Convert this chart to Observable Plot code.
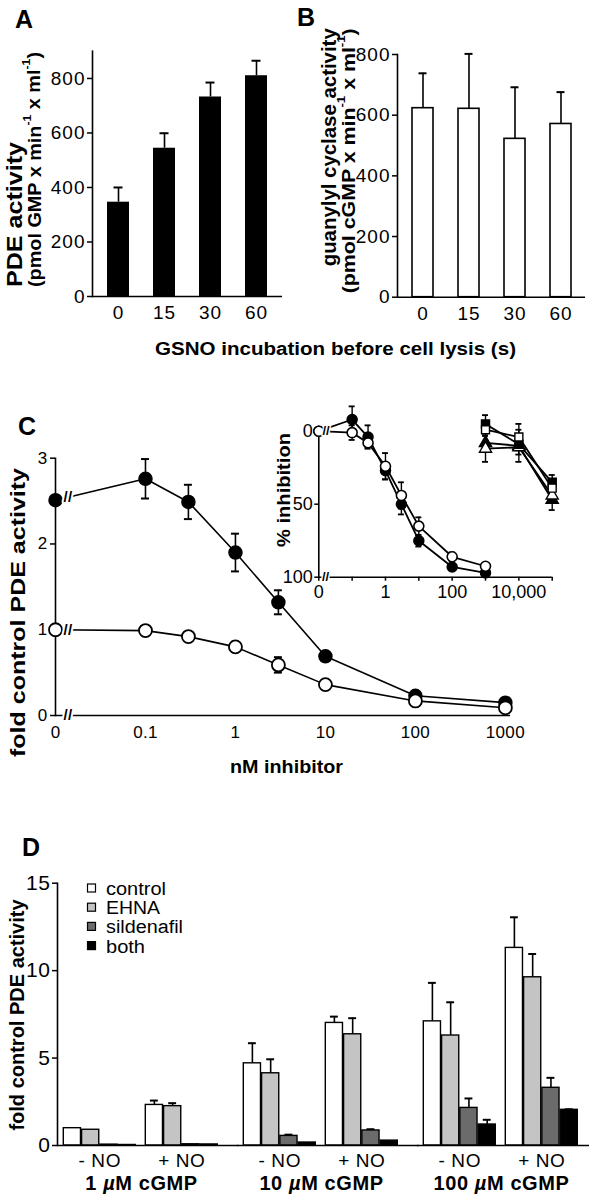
<!DOCTYPE html>
<html><head><meta charset="utf-8">
<script src="https://cdn.jsdelivr.net/npm/d3@7"></script>
<script src="https://cdn.jsdelivr.net/npm/@observablehq/plot@0.6"></script>
<style>
html,body{margin:0;padding:0;background:#fff;}
#page{position:relative;width:589px;height:1199px;overflow:hidden;background:#fff;}
#page > svg{position:absolute;left:0;top:0;}
</style></head><body><div id="page"></div>
<script>
// ---------------- DATA ----------------
// Panel A / B
const gsnoTimes = ["0", "15", "30", "60"];
const pdeActivity = [346, 544, 732, 810];
const pdeActivityErr = [54, 55, 53, 55];
const gcActivity = [623, 621, 522, 571];
const gcActivityErr = [115, 181, 170, 105];

// Panel C (main)
const inhibitorNM = [0, 0.1, 0.3, 1, 3, 10, 100, 1000];
const foldNO = [2.51, 2.76, 2.49, 1.90, 1.32, 0.69, 0.23, 0.15];
const foldNOErr = [0, 0.23, 0.20, 0.22, 0.14, 0.05, 0.03, 0.02];
const foldControl = [1.00, 0.99, 0.92, 0.80, 0.59, 0.36, 0.17, 0.09];
const foldControlErr = [0, 0.04, 0.02, 0.06, 0.09, 0.02, 0.02, 0.02];
const cTicks = [0, 0.1, 1, 10, 100, 1000];

// Panel C (inset, % inhibition)
const inhNO = [0, -8, 4, 27, 50, 75, 93, 97];
const inhNOErr = [0, 9, 8, 6, 7, 4, 2, 2];
const inhControl = [0, 1, 8, 24, 44, 65, 86, 92.5];
const inhControlErr = [0, 5, 3, 9, 9, 6, 3, 2];
const ehnaNM = [1000, 10000, 100000];
const ehnaFilledSq = [-5, 9, 35];
const ehnaFilledSqErr = [6, 4, 5];
const ehnaOpenSq = [-1, 4, 39];
const ehnaOpenSqErr = [4, 9, 4];
const ehnaFilledTri = [8, 10, 47];
const ehnaFilledTriErr = [5, 11, 7];
const ehnaOpenTri = [12, 11, 44];
const ehnaOpenTriErr = [9, 5, 5];
const insetTicks = [0, 0.1, 1, 10, 100, 1000, 10000, 100000];
const insetTickLabels = ["0", "", "1", "", "100", "", "10,000", ""];

// Panel D
const dConcentrations = ["1 µM cGMP", "10 µM cGMP", "100 µM cGMP"];
const dNO = ["- NO", "+ NO"];
const dTreatments = ["control", "EHNA", "sildenafil", "both"];
// order: 1µM -NO, 1µM +NO, 10µM -NO, 10µM +NO, 100µM -NO, 100µM +NO
const dControl = [0.99, 2.32, 4.70, 7.01, 7.10, 11.30];
const dControlErr = [0, 0.25, 1.15, 0.36, 2.20, 1.75];
const dEHNA = [0.90, 2.25, 4.13, 6.36, 6.29, 9.62];
const dEHNAErr = [0, 0.17, 0.80, 0.92, 1.90, 1.33];
const dSildenafil = [0.05, 0.07, 0.55, 0.86, 2.15, 3.30];
const dSildenafilErr = [0, 0, 0.07, 0.07, 0.54, 0.57];
const dBoth = [0.03, 0.06, 0.17, 0.28, 1.20, 2.04];
const dBothErr = [0, 0, 0, 0, 0.27, 0.03];

// ---------------- LAYOUT ----------------
const W = 589, H = 1199;
const FONT = '"Liberation Sans", Arial, Helvetica, sans-serif';
const page = document.getElementById("page");
function style(fs, ls) {
  return {background: "transparent", overflow: "visible", fontFamily: FONT,
          fontSize: fs + "px", letterSpacing: (ls || 0) + "px", color: "black"};
}
function add(svg) {
  svg.style.position = "absolute"; svg.style.left = "0px"; svg.style.top = "0px";
  svg.style.maxWidth = "none";
  page.appendChild(svg);
  return svg;
}
const SW = 1.6;

// ---------------- PANEL A ----------------
const aRows = gsnoTimes.map((t, i) => ({t, v: pdeActivity[i], e: pdeActivityErr[i]}));
add(Plot.plot({
  width: W, height: H, marginLeft: 92, marginRight: W - 282, marginTop: 50.7, marginBottom: H - 296,
  style: style(19, 1),
  x: {domain: gsnoTimes, paddingInner: 0.53, paddingOuter: 0.295},
  y: {domain: [0, 900]},
  marks: [
    Plot.barY(aRows, {x: "t", y: "v", fill: "black"}),
    Plot.ruleX(aRows, {x: "t", y1: "v", y2: d => d.v + d.e, strokeWidth: SW}),
    Plot.tickY(aRows, {x: "t", y: d => d.v + d.e, insetLeft: 6.5, insetRight: 6.5, strokeWidth: 2}),
    Plot.ruleY([0], {strokeWidth: SW}),
    Plot.frame({anchor: "left", strokeWidth: SW}),
    Plot.axisY({ticks: [0, 200, 400, 600, 800], tickSize: 5, tickPadding: 2, strokeWidth: 1.5, label: null}),
    Plot.axisX({tickSize: 0, tickPadding: 9, label: null})
  ]
}));

// ---------------- PANEL B ----------------
const bRows = gsnoTimes.map((t, i) => ({t, v: gcActivity[i], e: gcActivityErr[i]}));
add(Plot.plot({
  width: W, height: H, marginLeft: 397, marginRight: W - 585, marginTop: 54, marginBottom: H - 296.7,
  style: style(19, 1),
  x: {domain: gsnoTimes, paddingInner: 0.553, paddingOuter: 0.277},
  y: {domain: [0, 800]},
  marks: [
    Plot.ruleX(bRows, {x: "t", y1: "v", y2: d => d.v + d.e, strokeWidth: SW}),
    Plot.tickY(bRows, {x: "t", y: d => d.v + d.e, insetLeft: 6.5, insetRight: 6.5, strokeWidth: 2}),
    Plot.barY(bRows, {x: "t", y: "v", fill: "white", stroke: "black", strokeWidth: SW}),
    Plot.ruleY([0], {strokeWidth: SW}),
    Plot.frame({anchor: "left", strokeWidth: SW}),
    Plot.axisY({ticks: [0, 200, 400, 600, 800], tickSize: 5, tickPadding: 2, strokeWidth: 1.5, label: null}),
    Plot.axisX({tickSize: 0, tickPadding: 9, label: null})
  ]
}));

// ---------------- PANEL C (main) ----------------
const zeroNM = 0.01;           // log-axis position used for the "0" concentration
const breakNM = 0.0138;        // where the axis break "//" is drawn
const xPos = d => d === 0 ? zeroNM : d;
function series(name, ys, es) {
  return inhibitorNM.map((x, i) => ({series: name, x: xPos(x), y: ys[i], e: es[i]}));
}
const cNO = series("NO", foldNO, foldNOErr);
const cCtl = series("control", foldControl, foldControlErr);
const cAll = cNO.concat(cCtl);
const cErr = cAll.filter(d => d.e > 0);
function breakPoint(rows) {
  const a = rows[0], b = rows[1];
  const f = (Math.log10(breakNM) - Math.log10(a.x)) / (Math.log10(b.x) - Math.log10(a.x));
  return {x: breakNM, y: a.y + f * (b.y - a.y)};
}
const cBreaks = [breakPoint(cNO), breakPoint(cCtl), {x: breakNM, y: 0}];
add(Plot.plot({
  width: W, height: H, marginLeft: 55, marginRight: W - 510, marginTop: 457.7, marginBottom: H - 715,
  style: style(17, 0.3),
  x: {type: "log", domain: [zeroNM, 1140]},
  y: {domain: [0, 3]},
  marks: [
    Plot.ruleY([0], {strokeWidth: SW}),
    Plot.frame({anchor: "left", strokeWidth: SW}),
    Plot.axisY({ticks: [0, 1, 2, 3], tickFormat: d => String(d), tickSize: 5, tickPadding: 3, strokeWidth: 1.5, label: null}),
    Plot.axisX({ticks: cTicks.map(xPos), tickFormat: d => d === zeroNM ? "0" : String(d),
                tickSize: 0, tickPadding: 10, label: null}),
    Plot.line(cAll, {x: "x", y: "y", z: "series", stroke: "black", strokeWidth: SW}),
    Plot.ruleX(cErr, {x: "x", y1: d => d.y - d.e, y2: d => d.y + d.e, strokeWidth: SW}),
    Plot.ruleY(cErr, {x1: "x", x2: "x", y: d => d.y + d.e, insetLeft: -4, insetRight: -4, strokeWidth: 2}),
    Plot.ruleY(cErr, {x1: "x", x2: "x", y: d => d.y - d.e, insetLeft: -4, insetRight: -4, strokeWidth: 2}),
    Plot.dot(cNO, {x: "x", y: "y", r: 6.5, fill: "black", stroke: "black", strokeWidth: 1.5}),
    Plot.dot(cCtl, {x: "x", y: "y", r: 6.5, fill: "white", stroke: "black", strokeWidth: 1.8}),
    Plot.text(cBreaks, {x: "x", y: "y", text: () => "//", fontSize: 15, fontWeight: "bold",
                        fill: "black", stroke: "white", strokeWidth: 4})
  ]
}));

// ---------------- PANEL C (inset) ----------------
function iseries(name, xs, ys, es) {
  return xs.map((x, i) => ({series: name, x: xPos(x), y: ys[i], e: es[i]}));
}
const iNO = iseries("NO", inhibitorNM, inhNO, inhNOErr);
const iCtl = iseries("control", inhibitorNM, inhControl, inhControlErr);
const iFSq = iseries("fsq", ehnaNM, ehnaFilledSq, ehnaFilledSqErr);
const iOSq = iseries("osq", ehnaNM, ehnaOpenSq, ehnaOpenSqErr);
const iFTr = iseries("ftr", ehnaNM, ehnaFilledTri, ehnaFilledTriErr);
const iOTr = iseries("otr", ehnaNM, ehnaOpenTri, ehnaOpenTriErr);
const iAll = [].concat(iNO, iCtl, iFSq, iOSq, iFTr, iOTr);
const iErr = iAll.filter(d => d.e > 0);
const iBreaks = [{x: 0.0165, y: 0}, {x: 0.0159, y: 100}];
const insetLabel = new Map(insetTicks.map((t, i) => [xPos(t), insetTickLabels[i]]));
add(Plot.plot({
  width: W, height: H, marginLeft: 318.3, marginRight: W - 551.7, marginTop: 430.7, marginBottom: H - 576.7,
  style: style(18, 0),
  x: {type: "log", domain: [zeroNM, 100000]},
  y: {domain: [0, 100], reverse: true},
  marks: [
    Plot.ruleY([100], {strokeWidth: SW}),
    Plot.frame({anchor: "left", strokeWidth: SW}),
    Plot.axisY({ticks: [0, 50, 100], tickSize: 4, tickPadding: 2, strokeWidth: 1.5, label: null}),
    Plot.axisX({ticks: insetTicks.map(xPos), tickFormat: d => insetLabel.get(d),
                tickSize: 4, tickPadding: 4, strokeWidth: 1.5, label: null}),
    Plot.line(iAll, {x: "x", y: "y", z: "series", stroke: "black", strokeWidth: 1.8}),
    Plot.ruleX(iErr, {x: "x", y1: d => d.y - d.e, y2: d => d.y + d.e, strokeWidth: 1.4}),
    Plot.ruleY(iErr, {x1: "x", x2: "x", y: d => d.y - d.e, insetLeft: -3, insetRight: -3, strokeWidth: 1.8}),
    Plot.ruleY(iErr, {x1: "x", x2: "x", y: d => d.y + d.e, insetLeft: -3, insetRight: -3, strokeWidth: 1.8}),
    Plot.dot(iNO, {x: "x", y: "y", r: 5, fill: "black", stroke: "black"}),
    Plot.dot(iCtl, {x: "x", y: "y", r: 5, fill: "white", stroke: "black", strokeWidth: 1.6}),
    Plot.dot(iFTr, {x: "x", y: "y", r: 4.5, symbol: "triangle", fill: "black", stroke: "black"}),
    Plot.dot(iOTr, {x: "x", y: "y", r: 4.5, symbol: "triangle", fill: "white", stroke: "black", strokeWidth: 1.4}),
    Plot.dot(iFSq, {x: "x", y: "y", r: 4.5, symbol: "square", fill: "black", stroke: "black"}),
    Plot.dot(iOSq, {x: "x", y: "y", r: 4.5, symbol: "square", fill: "white", stroke: "black", strokeWidth: 1.4}),
    Plot.text(iBreaks, {x: "x", y: "y", text: () => "//", fontSize: 13, fontWeight: "bold",
                        fill: "black", stroke: "white", strokeWidth: 3})
  ]
}));

// ---------------- PANEL D ----------------
const dMeans = [dControl, dEHNA, dSildenafil, dBoth];
const dErrs = [dControlErr, dEHNAErr, dSildenafilErr, dBothErr];
const dFills = ["white", "#c4c4c4", "#6b6b6b", "black"];
const dRows = [];
dTreatments.forEach((t, ti) => dMeans[ti].forEach((v, gi) => dRows.push({
  conc: dConcentrations[Math.floor(gi / 2)], no: dNO[gi % 2], t, ti, v, e: dErrs[ti][gi]
})));
const dML = 56.7, dMR = W - 585;
const fxPI = 0.069, xPI = 0.116, xPO = 0.0726;
const facetStep = (W - dML - dMR) / (3 - fxPI);
const facetW = facetStep * (1 - fxPI);
const groupW = facetW / (2 - xPI + 2 * xPO) * (1 - xPI);
const barW = groupW / 4;
const capW = 9;
const dMarks = [];
dTreatments.forEach((t, ti) => {
  const rows = dRows.filter(d => d.ti === ti);
  const er = rows.filter(d => d.e > 0);
  dMarks.push(
    Plot.ruleX(er, {fx: "conc", x: "no", y1: "v", y2: d => d.v + d.e, dx: (ti - 1.5) * barW, strokeWidth: SW}),
    Plot.tickY(er, {fx: "conc", x: "no", y: d => d.v + d.e, strokeWidth: 2,
                    insetLeft: ti * barW + (barW - capW) / 2, insetRight: (3 - ti) * barW + (barW - capW) / 2}),
    Plot.barY(rows, {fx: "conc", x: "no", y: "v", fill: dFills[ti], stroke: "black", strokeWidth: 1.4,
                     insetLeft: ti * barW, insetRight: (3 - ti) * barW})
  );
});
const dSvg = add(Plot.plot({
  width: W, height: H, marginLeft: dML, marginRight: dMR, marginTop: 882.7, marginBottom: H - 1145,
  style: style(19, 0.6),
  fx: {domain: dConcentrations, paddingInner: fxPI, paddingOuter: 0},
  x: {domain: dNO, paddingInner: xPI, paddingOuter: xPO},
  y: {domain: [0, 15]},
  marks: [
    ...dMarks,
    Plot.ruleY([0], {strokeWidth: SW, insetRight: -(facetStep - facetW + 1)}),
    Plot.frame({anchor: "left", facetAnchor: "left", strokeWidth: SW}),
    Plot.axisY({ticks: [0, 5, 10, 15], tickSize: 5, tickPadding: 2, strokeWidth: 1.5, fontSize: 21, label: null}),
    Plot.axisX({anchor: "bottom", tickSize: 0, tickPadding: 8, fontSize: 19, label: null}),
    Plot.axisFx({anchor: "bottom", tickSize: 0, tickPadding: 30, fontSize: 20, fontWeight: "bold", label: null})
  ]
}));
// italic µ in the concentration labels
d3.select(dSvg).selectAll("text").each(function () {
  const el = d3.select(this);
  if (el.selectAll("tspan").size() === 0 && this.textContent.includes("µ")) {
    const [pre, post] = this.textContent.split("µ");
    el.text(null);
    el.append("tspan").text(pre);
    el.append("tspan").attr("font-style", "italic").text("µ");
    el.append("tspan").text(post);
  }
});

// ---------------- TEXT OVERLAY ----------------
const ov = d3.create("svg").attr("width", W).attr("height", H)
  .style("position", "absolute").style("left", "0px").style("top", "0px")
  .attr("font-family", FONT).attr("fill", "black");
function label(segs, o) {
  const g = ov.append("g").attr("transform", `translate(${o.x},${o.y})` + (o.rotate ? " rotate(-90)" : ""));
  const t = g.append("text").attr("font-size", o.size).attr("font-weight", o.weight || "bold")
    .attr("text-anchor", o.anchor || "middle");
  if (o.rotate) t.attr("dominant-baseline", "central");
  if (o.len) t.attr("textLength", o.len).attr("lengthAdjust", "spacingAndGlyphs");
  if (typeof segs === "string") segs = [segs];
  let up = false;
  segs.forEach(s => {
    if (typeof s === "string") {
      const sp = t.append("tspan").text(s);
      if (up) { sp.attr("dy", "0.42em"); up = false; }
    } else {
      t.append("tspan").text(s.sup).attr("font-size", "0.62em").attr("dy", up ? null : "-0.68em");
      up = true;
    }
  });
  return t;
}
// panel letters
label("A", {x: 15, y: 28, size: 25, anchor: "start"});
label("B", {x: 297, y: 26, size: 25, anchor: "start"});
label("C", {x: 18, y: 435, size: 25, anchor: "start"});
label("D", {x: 22, y: 856, size: 25, anchor: "start"});
// A axis titles
label("PDE activity", {x: 14, y: 287, size: 22, anchor: "start", rotate: true, len: 145});
label(["(pmol GMP x min", {sup: "-1"}, " x ml", {sup: "-1"}, ")"],
      {x: 33.5, y: 287, size: 19, anchor: "start", rotate: true, len: 235});
// B axis titles
label("guanylyl cyclase activity", {x: 329, y: 28.3, size: 20, anchor: "end", rotate: true, len: 238});
label(["(pmol cGMP x min", {sup: "-1"}, " x ml", {sup: "-1"}, ")"],
      {x: 348, y: 28.3, size: 19, anchor: "end", rotate: true, len: 265});
label("GSNO incubation before cell lysis (s)", {x: 155, y: 354.5, size: 18, anchor: "start", len: 361});
// C titles
label("fold control PDE activity", {x: 17, y: 612.5, size: 21, rotate: true, len: 289});
label("nM inhibitor", {x: 286.5, y: 773, size: 19, len: 113});
label("% inhibition", {x: 283, y: 490, size: 19, rotate: true, len: 114});
// D titles
label("fold control PDE activity", {x: 16.7, y: 1015, size: 20, rotate: true});
// D legend
const legLens = [60, 54, 77, 39];
dTreatments.forEach((t, i) => {
  const base = 895 + i * 19.2;
  ov.append("rect").attr("x", 87.5).attr("y", base - 11).attr("width", 8).attr("height", 8)
    .attr("fill", dFills[i]).attr("stroke", "black").attr("stroke-width", 1.2);
  label(t, {x: 106, y: base, size: 18, weight: "normal", anchor: "start", len: legLens[i]});
});
page.appendChild(ov.node());
</script>
</body></html>
